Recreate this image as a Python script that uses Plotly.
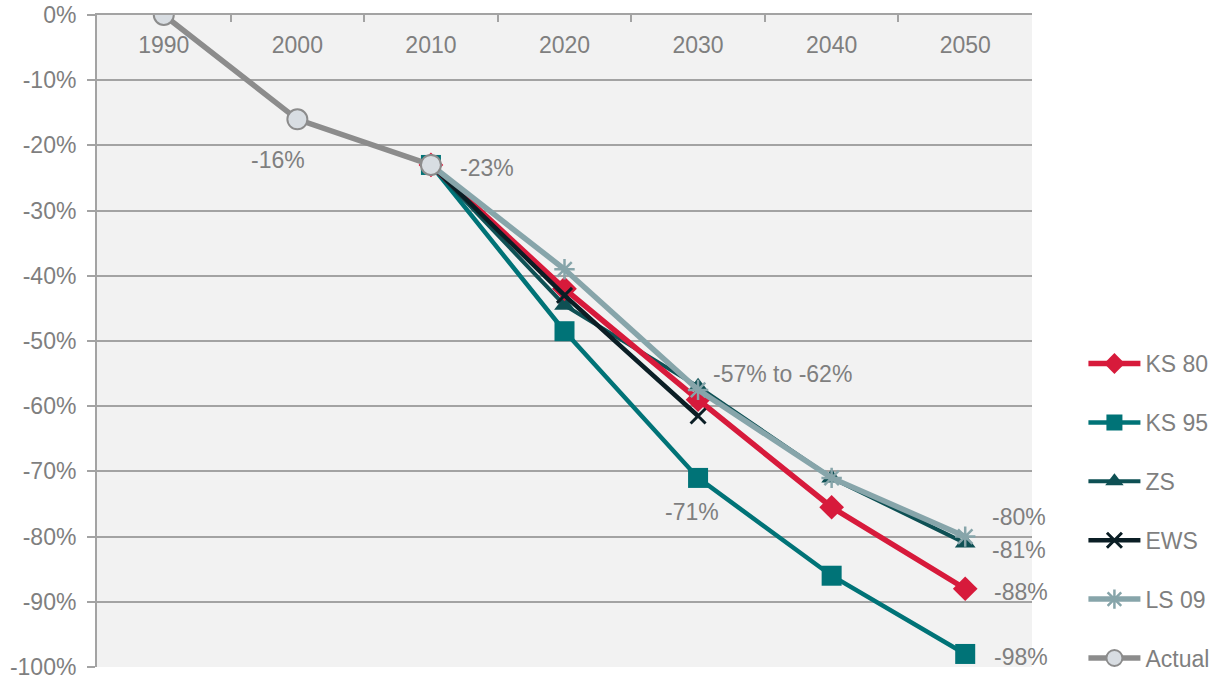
import plotly.graph_objects as go

# Emission reduction pathways relative to 1990 (%)
years = ["1990", "2000", "2010", "2020", "2030", "2040", "2050"]

actual_years = ["1990", "2000", "2010"]
actual = [0, -16, -23]

ks80_years = ["2010", "2020", "2030", "2040", "2050"]
ks80 = [-23, -42, -59, -75.5, -88]

ks95_years = ["2010", "2020", "2030", "2040", "2050"]
ks95 = [-23, -48.5, -71, -86, -98]

zs_years = ["2010", "2020", "2030", "2040", "2050"]
zs = [-23, -44.5, -57, -71, -81]

ews_years = ["2010", "2020", "2030"]
ews = [-23, -43, -61.5]

ls09_years = ["2010", "2020", "2030", "2040", "2050"]
ls09 = [-23, -39, -57.5, -71, -80]

y_ticks = [0, -10, -20, -30, -40, -50, -60, -70, -80, -90, -100]
y_tick_labels = ["0%", "-10%", "-20%", "-30%", "-40%", "-50%", "-60%", "-70%", "-80%", "-90%", "-100%"]

TEXT = "#7f7f7f"
GRID = "#a3a3a3"
FONT = "Liberation Sans, Arial, sans-serif"
FS = 23

fig = go.Figure()


def add_series(name, xs, ys, color, width, symbol, size, rank, mline=None, mfill=None):
    marker = dict(symbol=symbol, size=size, color=mfill or color)
    if mline is not None:
        marker["line"] = mline
    fig.add_trace(go.Scatter(
        x=xs, y=ys, name=name, mode="lines+markers",
        line=dict(color=color, width=width),
        marker=marker, legendrank=rank, legendgroup=name,
    ))


# drawing order (bottom to top)
add_series("KS 95", ks95_years, ks95, "#007377", 4.5, "square", 20, 2)
add_series("ZS", zs_years, zs, "#0e5054", 4, "triangle-up", 18, 3)
add_series("KS 80", ks80_years, ks80, "#d71a3b", 5.5, "diamond", 19, 1)
add_series("EWS", ews_years, ews, "#0b1e25", 4.5, "x-thin-open", 15, 4,
           mline=dict(color="#0b1e25", width=3))
add_series("LS 09", ls09_years, ls09, "#87a5aa", 5.5, "asterisk-open", 17, 5,
           mline=dict(color="#87a5aa", width=2.5))
add_series("Actual", actual_years, actual, "#8c8c8c", 5.5, "circle", 20, 6,
           mline=dict(color="#8c8c8c", width=2), mfill="#d8dde2")

# year labels sit just below the top axis line, inside the plot
fig.add_trace(go.Scatter(
    x=years, y=[None] * len(years), xaxis="x2", yaxis="y",
    showlegend=False, hoverinfo="skip", mode="markers",
))


def label(year, y, text, xshift=0, yshift=0, xanchor="center"):
    fig.add_annotation(x=years.index(year), y=y, xref="x", yref="y", text=text,
                       showarrow=False, xshift=xshift, yshift=yshift, xanchor=xanchor,
                       font=dict(size=FS, color=TEXT, family=FONT))


def pct(v):
    return f"{round(v)}%"


label("2000", actual[1], pct(actual[1]), xshift=-19, yshift=-41)
label("2010", actual[2], pct(actual[2]), xshift=27, yshift=-3, xanchor="left")
label("2030", zs[2], f"{pct(zs[2])} to {pct(ews[2])}", xshift=13, yshift=13, xanchor="left")
label("2030", ks95[2], pct(ks95[2]), xshift=-6, yshift=-34)
label("2050", ls09[4], pct(ls09[4]), xshift=25, yshift=20, xanchor="left")
label("2050", zs[4], pct(zs[4]), xshift=25, yshift=-7, xanchor="left")
label("2050", ks80[4], pct(ks80[4]), xshift=27, yshift=-3, xanchor="left")
label("2050", ks95[4], pct(ks95[4]), xshift=27, yshift=-3, xanchor="left")

fig.update_layout(
    width=1220, height=681,
    margin=dict(l=97, r=188, t=15, b=14, autoexpand=False),
    paper_bgcolor="white",
    plot_bgcolor="#f2f2f2",
    font=dict(family=FONT, size=FS, color=TEXT),
    showlegend=True,
    legend=dict(
        x=1.055, xanchor="left", y=-0.02, yanchor="bottom",
        traceorder="grouped", tracegroupgap=26,
        itemwidth=52, font=dict(size=FS, color=TEXT),
        bgcolor="rgba(0,0,0,0)",
    ),
    xaxis=dict(
        type="category", categoryorder="array", categoryarray=years,
        range=[-0.5, 6.5], side="top", automargin=False,
        showline=True, linecolor=GRID, linewidth=2,
        ticks="inside", tickson="boundaries", ticklen=7, tickcolor=GRID, tickwidth=2,
        showticklabels=False, showgrid=False, zeroline=False,
    ),
    xaxis2=dict(
        type="category", categoryorder="array", categoryarray=years,
        range=[-0.5, 6.5], overlaying="x", side="bottom", automargin=False,
        anchor="free", position=0.978,
        showline=False, ticks="", showgrid=False, zeroline=False,
        tickfont=dict(size=FS, color=TEXT),
    ),
    yaxis=dict(
        range=[-100, 0], tickvals=y_ticks, ticktext=y_tick_labels, automargin=False,
        showline=True, linecolor=GRID, linewidth=2,
        ticks="outside", ticklen=8, tickcolor=GRID, tickwidth=2,
        showgrid=True, gridcolor=GRID, gridwidth=2, zeroline=False,
        tickfont=dict(size=FS, color=TEXT), ticklabelstandoff=6,
    ),
)

fig.write_html("out.html")
